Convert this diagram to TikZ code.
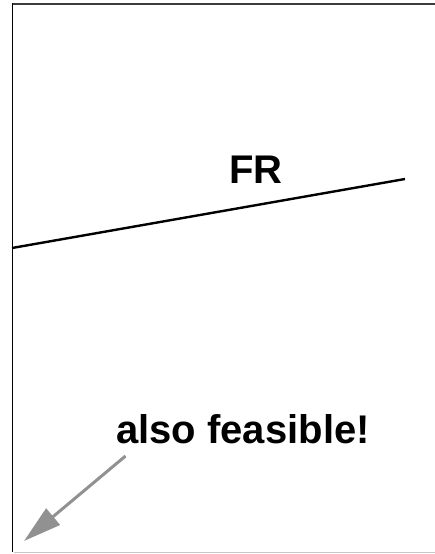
\documentclass[tikz,border=0pt]{standalone}
\usepackage{fontspec}
\setmainfont{Liberation Sans}
\usetikzlibrary{arrows.meta,positioning}

\definecolor{topgray}{RGB}{60,60,60}
\definecolor{lowgray}{RGB}{200,200,200}
\definecolor{hintgray}{RGB}{145,145,145}

\begin{document}
\begin{tikzpicture}[
    x=1pt, y=-1pt,
    tag/.style={
        font=\fontsize{40}{40}\selectfont\bfseries,
        inner sep=0pt,
        anchor=base
    },
    bound/.style={line width=1.8pt},
    hint/.style={-{Triangle[length=38pt,width=21pt]}, line width=3pt, draw=hintgray}
]
\useasboundingbox (0,0) rectangle (435,554);

% frame of the region
\draw[bound, topgray] (12,4) -- (435,4);
\draw[bound, black] (12.5,3) -- (12.5,552);
\draw[line width=1pt, lowgray] (14,552.5) -- (435,552.5);

% constraint line
\coordinate (fr1) at (12,248);
\coordinate (fr2) at (405,179);
\draw[line width=2.4pt] (fr1) -- (fr2);
\node[tag] (fr) at (256,183) {FR};

% hint
\node[tag] (feas) at (243,443) {also feasible!};
\coordinate (tail) at (125.5,456);
\coordinate (tip) at (24,541);
\draw[hint] (tail) -- (tip);
\end{tikzpicture}
\end{document}
